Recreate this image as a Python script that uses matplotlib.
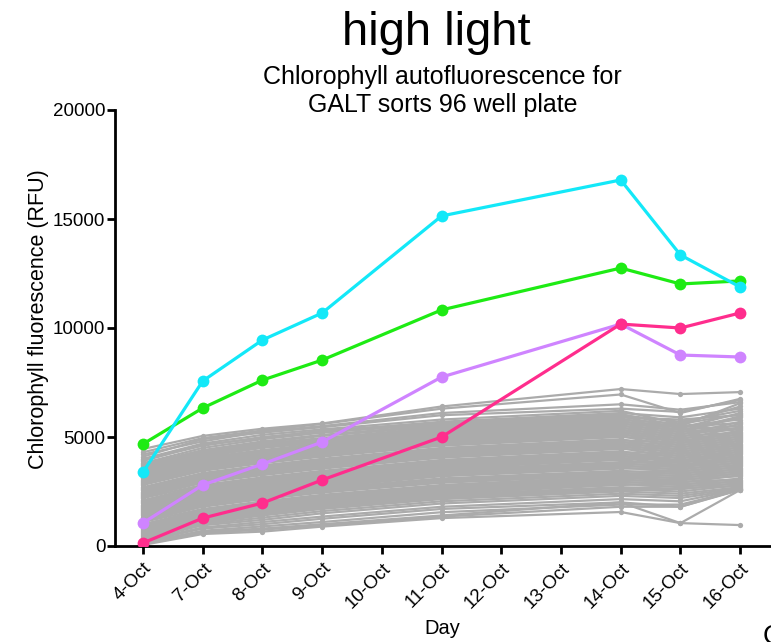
import matplotlib
matplotlib.use("Agg")
import matplotlib.pyplot as plt

plt.rcParams['font.family'] = ['Liberation Sans', 'DejaVu Sans']

days = ["4-Oct", "7-Oct", "8-Oct", "9-Oct", "10-Oct", "11-Oct",
        "12-Oct", "13-Oct", "14-Oct", "15-Oct", "16-Oct"]
measured_days = ["4-Oct", "7-Oct", "8-Oct", "9-Oct", "11-Oct", "14-Oct", "15-Oct", "16-Oct"]

cyan_vals = [3390, 7570, 9450, 10690, 15140, 16790, 13350, 11880]
green_vals = [4680, 6330, 7610, 8530, 10830, 12750, 12020, 12160]
violet_vals = [1060, 2800, 3760, 4770, 7750, 10180, 8760, 8670]
pink_vals = [140, 1280, 1970, 3030, 5000, 10180, 10000, 10690]

gray_series = [
    [4450, 5050, 5380, 5620, 6400, 7200, 6970, 7060],
    [4300, 4950, 5300, 5600, 6300, 6950, 6100, 6750],
    [4200, 4800, 5250, 5500, 6100, 6500, 6250, 6600],
    [4100, 4900, 5200, 5450, 6000, 6300, 6150, 6700],
    [4000, 4700, 5100, 5350, 5800, 6200, 5600, 6400],
    [3950, 4600, 5000, 5250, 5700, 6100, 5900, 6300],
    [3900, 4650, 4950, 5300, 5650, 6050, 5500, 6550],
    [3800, 4500, 4900, 5200, 5600, 6000, 5700, 6200],
    [3750, 4400, 4800, 5100, 5550, 5950, 5400, 6100],
    [3700, 4350, 4750, 5050, 5500, 5900, 5800, 6000],
    [3650, 4300, 4700, 4950, 5450, 5850, 5300, 5950],
    [3600, 4250, 4650, 4900, 5400, 5800, 5600, 6050],
    [3550, 4200, 4600, 4850, 5350, 5750, 5200, 5900],
    [3500, 4150, 4550, 4800, 5300, 5700, 5500, 5800],
    [3450, 4100, 4500, 4750, 5250, 5650, 5100, 5700],
    [3400, 4050, 4400, 4700, 5200, 5600, 5450, 5650],
    [3350, 4000, 4350, 4650, 5150, 5550, 5000, 5600],
    [3300, 3950, 4300, 4600, 5100, 5500, 5350, 5500],
    [3250, 3900, 4250, 4550, 5050, 5450, 4900, 5450],
    [3200, 3850, 4200, 4500, 5000, 5400, 5250, 5400],
    [3150, 3800, 4150, 4450, 4950, 5350, 4800, 5300],
    [3100, 3750, 4100, 4400, 4900, 5300, 5150, 5350],
    [3050, 3700, 4050, 4350, 4850, 5250, 4700, 5250],
    [3000, 3650, 4000, 4300, 4800, 5200, 5050, 5200],
    [2950, 3600, 3950, 4250, 4750, 5150, 4600, 5150],
    [2900, 3550, 3900, 4200, 4700, 5100, 4950, 5100],
    [2850, 3500, 3850, 4150, 4650, 5050, 4500, 5050],
    [2800, 3450, 3800, 4100, 4600, 5000, 4850, 5000],
    [2700, 3350, 3700, 4000, 4500, 4900, 4400, 4950],
    [2650, 3300, 3650, 3950, 4450, 4850, 4750, 4900],
    [2600, 3250, 3600, 3900, 4400, 4800, 4300, 4850],
    [2550, 3200, 3550, 3850, 4350, 4750, 4650, 4800],
    [2500, 3150, 3500, 3800, 4300, 4700, 4200, 4750],
    [2450, 3100, 3450, 3750, 4250, 4650, 4550, 4700],
    [2400, 3050, 3400, 3700, 4200, 4600, 4100, 4650],
    [2350, 3000, 3350, 3650, 4150, 4550, 4450, 4600],
    [2300, 2950, 3300, 3600, 4100, 4500, 4000, 4550],
    [2250, 2900, 3250, 3550, 4050, 4450, 4350, 4500],
    [2200, 2800, 3150, 3450, 3950, 4350, 3900, 4450],
    [2100, 2750, 3100, 3400, 3900, 4300, 4250, 4400],
    [2050, 2700, 3050, 3350, 3850, 4250, 3850, 4350],
    [2000, 2650, 3000, 3300, 3800, 4200, 4150, 4300],
    [1950, 2600, 2950, 3250, 3750, 4150, 3800, 4250],
    [1900, 2550, 2900, 3200, 3700, 4100, 4050, 4200],
    [1850, 2500, 2850, 3150, 3650, 4050, 3700, 4150],
    [1800, 2450, 2800, 3100, 3600, 4000, 3950, 4100],
    [1750, 2400, 2750, 3050, 3550, 3950, 3650, 4050],
    [1700, 2350, 2700, 3000, 3500, 3850, 3850, 4000],
    [1650, 2300, 2650, 2950, 3450, 3800, 3600, 3950],
    [1600, 2250, 2600, 2900, 3400, 3750, 3750, 3900],
    [1550, 2200, 2550, 2850, 3350, 3700, 3500, 3850],
    [1500, 2150, 2500, 2800, 3300, 3650, 3650, 3800],
    [1450, 2100, 2450, 2750, 3250, 3600, 3400, 3750],
    [1400, 2050, 2400, 2700, 3200, 3550, 3550, 3700],
    [1350, 2000, 2350, 2650, 3100, 3450, 3300, 3650],
    [1300, 1950, 2300, 2600, 3050, 3400, 3450, 3600],
    [1250, 1900, 2250, 2550, 3000, 3350, 3200, 3550],
    [1200, 1850, 2200, 2500, 2950, 3300, 3350, 3500],
    [1150, 1800, 2150, 2450, 2900, 3250, 3100, 3450],
    [1100, 1700, 2050, 2350, 2800, 3200, 3250, 3400],
    [1000, 1650, 2000, 2300, 2750, 3150, 3000, 3350],
    [950, 1600, 1950, 2250, 2700, 3100, 3150, 3300],
    [900, 1550, 1900, 2200, 2650, 3050, 2900, 3250],
    [850, 1500, 1850, 2150, 2600, 3000, 3050, 3200],
    [800, 1450, 1800, 2100, 2550, 2950, 2800, 3100],
    [750, 1400, 1750, 2050, 2500, 2900, 2950, 3050],
    [700, 1350, 1700, 2000, 2450, 2850, 2700, 3000],
    [650, 1300, 1650, 1950, 2400, 2800, 2850, 2950],
    [600, 1250, 1600, 1900, 2350, 2700, 2600, 2900],
    [550, 1200, 1550, 1850, 2300, 2650, 2750, 2850],
    [500, 1150, 1500, 1800, 2250, 2600, 2500, 2800],
    [450, 1100, 1450, 1750, 2200, 2550, 2650, 2750],
    [400, 1050, 1400, 1700, 2150, 2500, 2400, 2700],
    [350, 1000, 1300, 1600, 2050, 2400, 2300, 2650],
    [300, 950, 1200, 1500, 1950, 2300, 2200, 2600],
    [250, 850, 1100, 1350, 1800, 2150, 2050, 2600],
    [200, 800, 1000, 1250, 1700, 2000, 1800, 2570],
    [150, 700, 900, 1100, 1550, 1900, 1900, 2570],
    [100, 650, 800, 1000, 1400, 2000, 1050, 2570],
    [50, 550, 660, 890, 1280, 1560, 1050, 960],
    [180, 600, 750, 950, 1350, 1800, 1800, 2600],
]

y_ticks = [0, 5000, 10000, 15000, 20000]

fig = plt.figure(figsize=(7.71, 6.42), dpi=100)
ax = fig.add_axes([115/771, 1-546/642, (770-115)/771, (546-110)/642])

xpos = [days.index(d) for d in measured_days]

gray = '#ABABAB'
for s in gray_series:
    ax.plot(xpos, s, color=gray, lw=1.6, marker='o', ms=3.8,
            markeredgewidth=0, solid_joinstyle='round', zorder=2)

colored = [(green_vals, '#1EEB14'), (cyan_vals, '#13E8F8'),
           (violet_vals, '#CF84FF'), (pink_vals, '#FF2D8D')]
for vals, c in colored:
    ax.plot(xpos, vals, color=c, lw=2.3, marker='o', ms=8.5,
            markeredgewidth=0, zorder=3)

ax.set_xlim(-0.47, 10.5)
ax.set_ylim(0, 20000)
ax.set_xticks(range(len(days)))
ax.set_xticklabels(days, rotation=45, ha='right', rotation_mode='anchor', fontsize=13.5)
ax.set_yticks(y_ticks)
ax.set_yticklabels([str(v) for v in y_ticks], fontsize=13.5)

for sp in ['top', 'right']:
    ax.spines[sp].set_visible(False)
for sp in ['left', 'bottom']:
    ax.spines[sp].set_linewidth(2.0)
ax.tick_params(axis='both', width=2.0, length=6, direction='out', pad=1)
ax.tick_params(axis='x', pad=4)

ax.set_ylabel('Chlorophyll fluorescence (RFU)', fontsize=15.5)
ax.yaxis.set_label_coords(-0.100, (546 - 319) / 436)
ax.set_xlabel('Day', fontsize=14.5)
ax.xaxis.set_label_coords(0.5, (546 - 619) / 436)

cx = (115 + 770) / 2 / 771
fig.text(cx - 0.008, 1 - 33/642, 'high light', fontsize=34, ha='center', va='center')
fig.text(cx, 1 - 77/642, 'Chlorophyll autofluorescence for', fontsize=18, ha='center', va='center')
fig.text(cx, 1 - 105/642, 'GALT sorts 96 well plate', fontsize=18, ha='center', va='center')
fig.text(763/771, -8/642, 'C', fontsize=20, ha='left', va='bottom')

fig.savefig('out.png', dpi=100)
